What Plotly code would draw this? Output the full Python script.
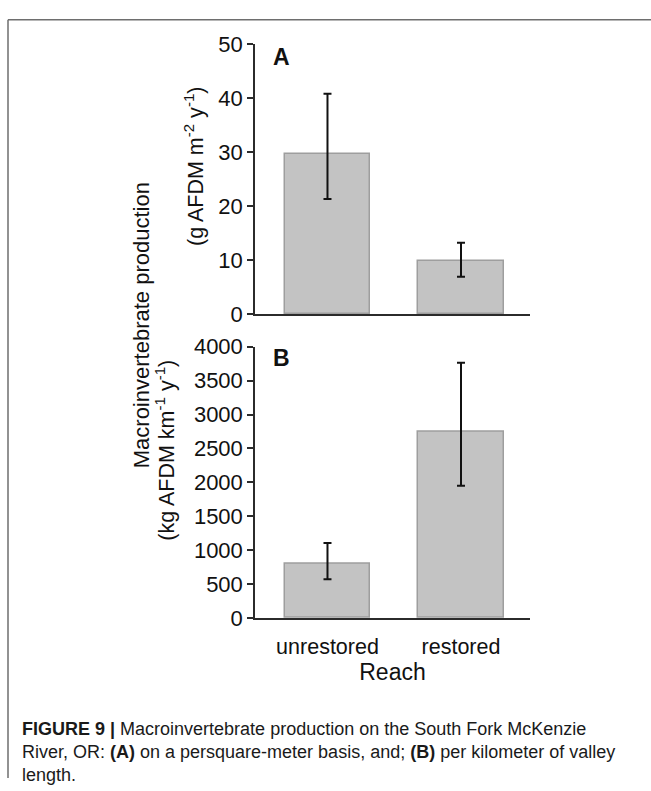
import plotly.graph_objects as go

# ---- data ----
reaches = ["unrestored", "restored"]
prod_area = [29.6, 9.8]          # g AFDM m-2 y-1
prod_area_hi = [40.8, 13.2]
prod_area_lo = [21.3, 6.9]
prod_len = [800, 2740]           # kg AFDM km-1 y-1
prod_len_hi = [1105, 3765]
prod_len_lo = [570, 1950]

W, H = 651, 791
def px(x):
    return x / W
def py(y):
    return 1 - y / H

FONT = "Liberation Sans, Arial, sans-serif"
AX = "#2b2b2b"
BAR_FILL = "#c3c3c3"
BAR_EDGE = "#9e9e9e"

fig = go.Figure()

def add_bars(vals, hi, lo, xa, ya):
    fig.add_trace(go.Bar(
        x=reaches, y=vals, xaxis=xa, yaxis=ya, width=0.64,
        marker=dict(color=BAR_FILL, line=dict(color=BAR_EDGE, width=1.5)),
        error_y=dict(type="data", symmetric=False,
                     array=[h - v for h, v in zip(hi, vals)],
                     arrayminus=[v - l for v, l in zip(vals, lo)],
                     color="#111111", thickness=2, width=4),
        showlegend=False, hoverinfo="skip"))

add_bars(prod_area, prod_area_hi, prod_area_lo, "x", "y")
add_bars(prod_len, prod_len_hi, prod_len_lo, "x2", "y2")

xrange = [-0.543, 1.517]
common_y = dict(showline=True, linecolor=AX, linewidth=1.5, ticks="outside",
                ticklen=6, tickwidth=1.5, tickcolor=AX, showgrid=False,
                zeroline=False, tickfont=dict(family=FONT, size=22, color="#111"))
common_x = dict(showline=True, linecolor=AX, linewidth=1.5, showgrid=False,
                zeroline=False, range=xrange, type="category", fixedrange=True)

fig.update_layout(
    width=W, height=H,
    margin=dict(l=0, r=0, t=0, b=0),
    paper_bgcolor="white", plot_bgcolor="white",
    bargap=0,
    xaxis=dict(domain=[px(255), px(530)], anchor="y", showticklabels=False,
               ticks="", **common_x),
    yaxis=dict(domain=[py(312), py(33)], anchor="x", range=[0, 50], dtick=10,
               **common_y),
    xaxis2=dict(domain=[px(255), px(530)], anchor="y2", ticks="outside",
                ticklen=9, tickcolor="rgba(0,0,0,0)",
                tickfont=dict(family=FONT, size=21.5, color="#111"),
                title=dict(text="Reach", font=dict(family=FONT, size=23, color="#111"),
                           standoff=2),
                **common_x),
    yaxis2=dict(domain=[py(625.7), py(345.7)], anchor="x2", range=[0, 4000],
                dtick=500, **common_y),
)

ann = []
ann.append(dict(text="<b>A</b>", x=px(271), y=py(46), xanchor="left", yanchor="middle",
                font=dict(family=FONT, size=23, color="#111")))
ann.append(dict(text="<b>B</b>", x=px(271), y=py(357), xanchor="left", yanchor="middle",
                font=dict(family=FONT, size=23, color="#111")))
ann.append(dict(text="Macroinvertebrate production", textangle=-90,
                x=px(156), y=py(324), xanchor="right", yanchor="middle",
                font=dict(family=FONT, size=22, color="#111")))
ann.append(dict(text="(g AFDM m<sup>-2</sup> y<sup>-1</sup>)", textangle=-90,
                x=px(210), y=py(160), xanchor="right", yanchor="middle",
                font=dict(family=FONT, size=21.5, color="#111")))
ann.append(dict(text="(kg AFDM km<sup>-1</sup> y<sup>-1</sup>)", textangle=-90,
                x=px(181), y=py(453), xanchor="right", yanchor="middle",
                font=dict(family=FONT, size=21.5, color="#111")))

cap_font = dict(family=FONT, size=18, color="#1a1a1a")
caption_lines = [
    "<b>FIGURE 9 |</b> Macroinvertebrate production on the South Fork McKenzie",
    "River, OR: <b>(A)</b> on a persquare-meter basis, and; <b>(B)</b> per kilometer of valley",
    "length.",
]
for i, line in enumerate(caption_lines):
    ann.append(dict(text=line, x=px(20), y=py(740 + 24 * i), xanchor="left",
                    yanchor="middle", font=cap_font))

for a in ann:
    a.update(xref="paper", yref="paper", showarrow=False)
fig.update_layout(annotations=ann)

frame = dict(color="#6e6e6e", width=1.5)
fig.update_layout(shapes=[
    dict(type="line", xref="paper", yref="paper", x0=px(8), x1=1, y0=py(8), y1=py(8), line=frame),
    dict(type="line", xref="paper", yref="paper", x0=px(8), x1=px(8), y0=py(8), y1=0, line=frame),
])

fig.write_html("out.html", config={"displayModeBar": False})
